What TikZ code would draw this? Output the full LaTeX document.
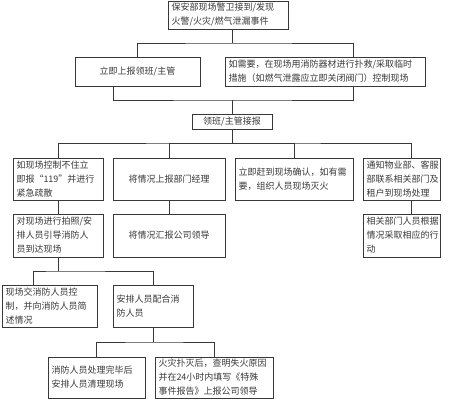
\documentclass[tikz,border=0pt]{standalone}
\usepackage{fontspec}
\setmainfont{Noto Sans CJK SC}
\definecolor{ink}{gray}{0.22}
\newcommand\mybox[8]{%
  \pgfmathsetmacro\bw{#4-#2}%
  \pgfmathsetmacro\bh{#5-#3}%
  \pgfmathsetmacro\tw{#4-#2-7}%
  \pgfmathsetmacro\cx{(#2+#4)/2}%
  \pgfmathsetmacro\cy{(#3+#5)/2}%
  \node[box, minimum width=\bw pt, minimum height=\bh pt, text width=\tw pt, align=#6, #7] (#1) at (\cx,\cy) {#8};%
}
\begin{document}
\begin{tikzpicture}[x=1pt,y=-1pt,
  box/.style={draw=ink, line width=0.8pt, inner sep=0pt, text=ink,
    font=\fontsize{9}{14}\selectfont},
  conn/.style={draw=ink, line width=0.8pt}]
\useasboundingbox (0,0) rectangle (452,400);
\fill[white] (0,0) rectangle (452,400);
% boxes
\mybox{top}{168}{1}{288}{29}{left}{}{保安部现场警卫接到/发现\\火警/火灾/燃气泄漏事件}
\mybox{L2}{75}{57}{200}{86}{center}{}{立即上报领班/主管}
\mybox{R2}{225}{57}{425}{86}{left}{}{如需要，在现场用消防器材进行扑救/采取临时\\措施（如燃气泄露应立即关闭阀门）控制现场}
\mybox{M}{192}{114}{272}{129}{center}{}{领班/主管接报}
\mybox{A}{13}{158}{103}{200}{left}{}{如现场控制不住立\\即报“119”并进行\\紧急疏散}
\mybox{B}{113}{158}{225}{200}{center}{}{将情况上报部门经理}
\mybox{C}{235}{158}{353}{200}{left}{}{立即赶到现场确认，如有需\\要，组织人员现场灭火}
\mybox{D}{363}{158}{440}{200}{left}{}{通知物业部、客服\\部联系相关部门及\\租户到现场处理}
\mybox{A2}{13}{214}{103}{257}{left}{}{对现场进行拍照/安\\排人员引导消防人\\员到达现场}
\mybox{B2}{113}{214}{225}{257}{center}{}{将情况汇报公司领导}
\mybox{D2}{363}{214}{440}{257}{left}{}{相关部门人员根据\\情况采取相应的行\\动}
\mybox{A3}{2}{285}{97}{327}{left}{}{现场交消防人员控\\制，并向消防人员简\\述情况}
\mybox{B3}{113}{285}{193}{327}{left}{}{安排人员配合消\\防人员}
\mybox{E}{48}{357}{145}{398}{left}{}{消防人员处理完毕后\\安排人员清理现场}
\mybox{F}{155}{357}{273}{398}{left}{}{火灾扑灭后，查明失火原因\\并在24小时内填写《特殊\\事件报告》上报公司领导}
% junction coordinates
\coordinate (j1) at (232,43);
\coordinate (r2t) at (353,57);
\coordinate (l2b) at (113,86);
\coordinate (r2b) at (353,86);
\coordinate (j2) at (232,100);
\coordinate (j3) at (232,143);
\coordinate (dT) at (411,158);
\coordinate (dB) at (411,200);
\coordinate (d2T) at (411,214);
\coordinate (j4) at (58,271);
\coordinate (a3T) at (33,285);
\coordinate (j5) at (153,342);
% connectors
\draw[conn] (top.south -| j1) -- (j1);
\draw[conn] (L2.north) |- (j1) -| (r2t);
\draw[conn] (l2b) |- (j2) -| (r2b);
\draw[conn] (j2) -- (M.north);
\draw[conn] (M.south) -- (j3);
\draw[conn] (A.north) |- (j3) -| (dT);
\draw[conn] (B.north) |- (j3);
\draw[conn] (C.north) |- (j3);
\draw[conn] (A.south) -- (A2.north);
\draw[conn] (B.south) -- (B2.north);
\draw[conn] (dB) -- (d2T);
\draw[conn] (A2.south) -- (j4);
\draw[conn] (a3T) |- (j4) -| (B3.north);
\draw[conn] (B3.south) -- (j5);
\draw[conn] (E.north) |- (j5) -| (F.north);
\end{tikzpicture}
\end{document}
